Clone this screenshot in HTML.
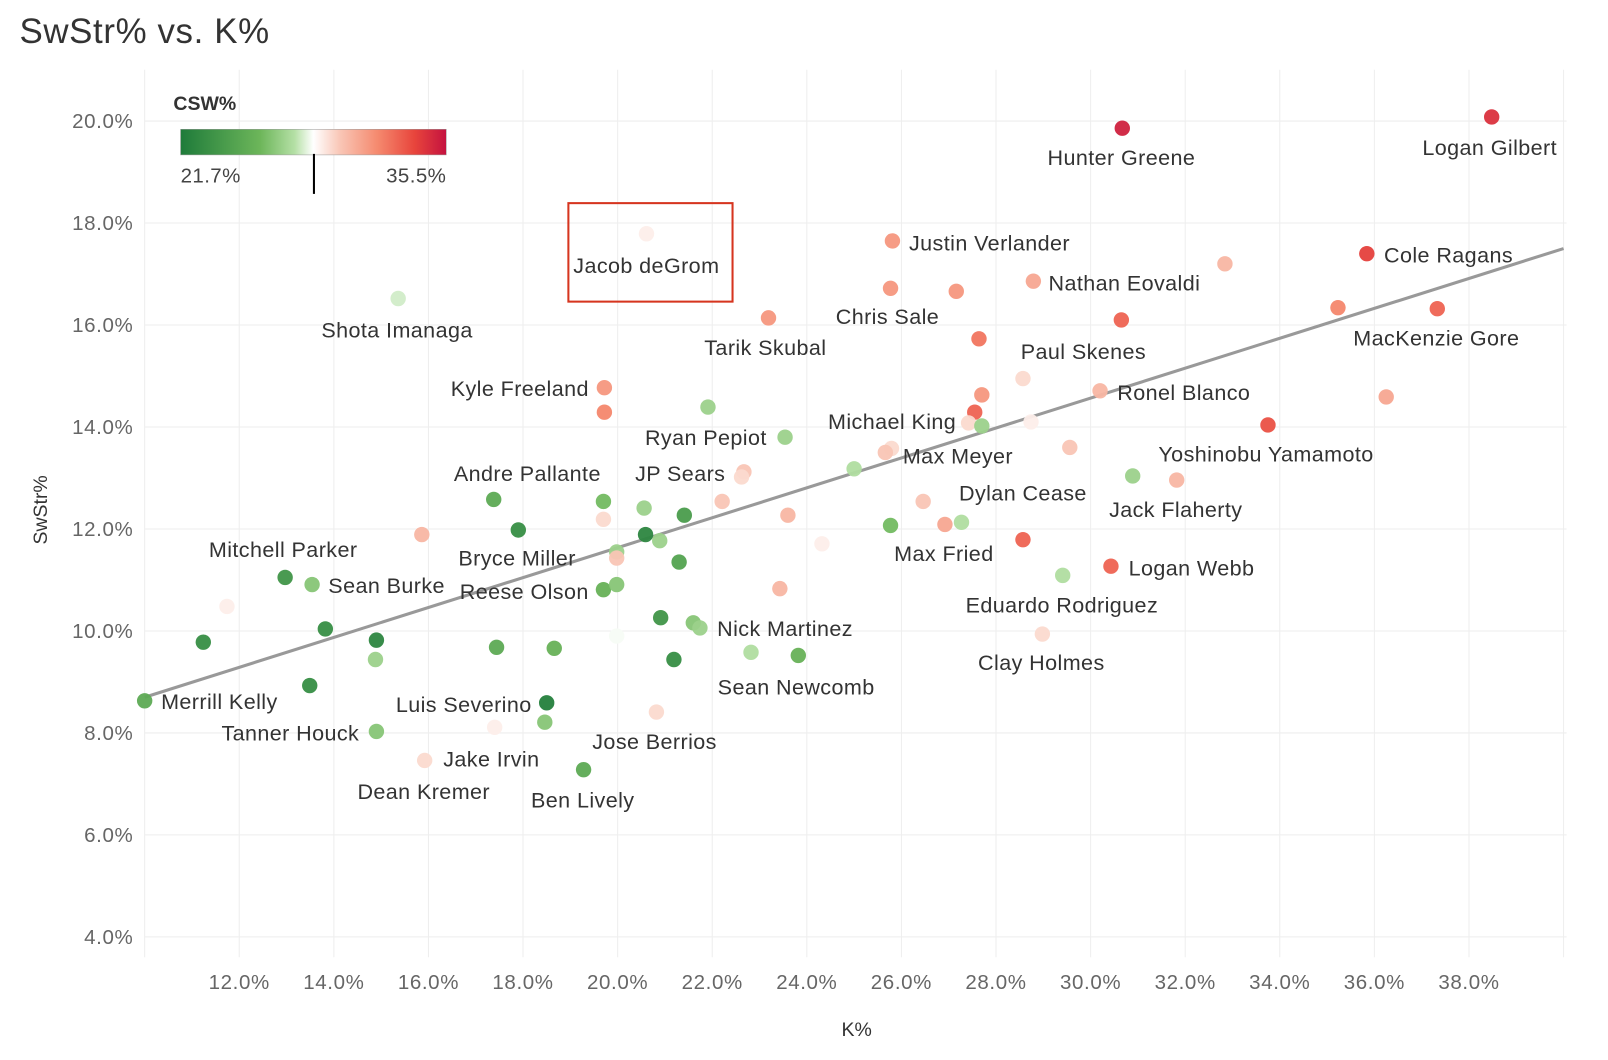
<!DOCTYPE html>
<html><head><meta charset="utf-8">
<style>
html,body{margin:0;padding:0;background:#fff;}
svg{display:block;font-family:"Liberation Sans","DejaVu Sans",sans-serif;}
</style></head>
<body>
<svg id="chart" width="1608" height="1060" viewBox="0 0 1567.3 1033.2" preserveAspectRatio="none" xmlns="http://www.w3.org/2000/svg">
<defs>
<linearGradient id="csw" x1="0" x2="1" y1="0" y2="0">
<stop offset="0" stop-color="#1e7b3a"/><stop offset="0.3" stop-color="#6db65a"/><stop offset="0.43" stop-color="#b5e0a6"/><stop offset="0.5" stop-color="#ffffff"/><stop offset="0.6" stop-color="#f9c6b6"/><stop offset="0.74" stop-color="#f58a6f"/><stop offset="0.88" stop-color="#e8453c"/><stop offset="1" stop-color="#c4123f"/>
</linearGradient>
</defs>
<text x="19" y="42" font-size="34" letter-spacing="0.6" fill="#333">SwStr% vs. K%</text>
<g id="grid"></g>
<g id="axes"></g>
<line id="trend" stroke="#999" stroke-width="3"/>
<g id="points"></g>
<g id="labels" font-size="21" letter-spacing="0.4" fill="#333"></g>
<rect x="554" y="198" width="160" height="96" fill="none" stroke="#d6351f" stroke-width="2"/>
<g>
<text x="169" y="107" font-size="19" font-weight="bold" fill="#333">CSW%</text>
<rect x="176" y="126" width="259" height="25" fill="url(#csw)" stroke="#999" stroke-width="0.5"/>
<text x="176" y="178" font-size="20" letter-spacing="0.4" fill="#444">21.7%</text>
<text x="435" y="178" font-size="20" letter-spacing="0.4" fill="#444" text-anchor="end">35.5%</text>
<line x1="306" x2="306" y1="150" y2="189" stroke="#000" stroke-width="2"/>
</g>
<text transform="translate(46,497) rotate(-90)" font-size="19" fill="#333" text-anchor="middle">SwStr%</text>
<text x="835" y="1010" font-size="19" fill="#333" text-anchor="middle">K%</text>
</svg>
<script>
const kVals=[30.67,38.48,20.61,25.81,28.79,32.84,35.84,25.77,27.16,23.19,30.65,35.23,37.33,15.36,27.64,28.57,19.72,19.72,27.7,30.2,36.25,27.55,27.42,27.7,28.74,33.75,21.91,23.54,25.79,25.66,29.56,25.0,22.67,22.62,30.89,31.82,17.38,19.7,20.56,21.41,22.21,23.6,17.9,19.7,20.59,20.89,24.32,25.77,26.46,26.92,27.27,28.57,15.86,19.98,19.98,21.3,12.97,13.54,11.74,19.7,19.98,23.43,29.41,30.43,11.24,13.82,14.9,14.88,13.49,10.0,17.44,18.66,20.91,19.98,21.19,21.6,21.74,22.82,23.82,28.98,18.5,18.46,17.4,20.82,14.9,15.92,19.28];
const swVals=[19.86,20.08,17.79,17.65,16.86,17.2,17.4,16.72,16.66,16.14,16.1,16.34,16.32,16.52,15.73,14.95,14.77,14.29,14.63,14.71,14.59,14.29,14.08,14.02,14.1,14.04,14.39,13.8,13.58,13.5,13.6,13.18,13.12,13.02,13.04,12.96,12.58,12.54,12.41,12.27,12.54,12.27,11.98,12.19,11.89,11.77,11.71,12.07,12.54,12.09,12.13,11.79,11.89,11.55,11.43,11.35,11.05,10.91,10.48,10.81,10.91,10.83,11.09,11.27,9.78,10.04,9.82,9.44,8.93,8.63,9.68,9.66,10.26,9.9,9.44,10.16,10.06,9.58,9.52,9.94,8.59,8.21,8.11,8.41,8.03,7.46,7.28];
const cswVals=[35,34.5,29,31.5,31,30.5,34,31.5,31.5,31.5,33,32,33,28,32.5,29.5,31.5,32,31.5,30.5,31,33,29.5,27,29,33.5,27,27,29.5,30,30,27.5,30,29.5,27,30.5,25,26,27,24,30,30.5,23,29.5,22.5,27,29,26,30,31,27.5,33,30.5,27,30,24.5,23.5,26.5,29,25.5,26.5,30.5,27.5,33,23,23,22.5,27,23,25,25,25.5,23.5,28.5,23,26.5,27,27.5,25.5,29.5,22,26.5,29,29.5,26.5,29.5,25];
const xTicks=[12,14,16,18,20,22,24,26,28,30,32,34,36,38];
const yTicks=[4,6,8,10,12,14,16,18,20];
const trendStart=[10,8.7];
const trendEnd=[40,17.5];
const labelNames=["Hunter Greene","Logan Gilbert","Jacob deGrom","Justin Verlander","Nathan Eovaldi","Cole Ragans","Chris Sale","Tarik Skubal","MacKenzie Gore","Shota Imanaga","Paul Skenes","Kyle Freeland","Ronel Blanco","Michael King","Ryan Pepiot","Max Meyer","Yoshinobu Yamamoto","Andre Pallante","JP Sears","Dylan Cease","Jack Flaherty","Mitchell Parker","Bryce Miller","Max Fried","Logan Webb","Sean Burke","Reese Olson","Eduardo Rodriguez","Nick Martinez","Clay Holmes","Sean Newcomb","Merrill Kelly","Luis Severino","Tanner Houck","Jose Berrios","Jake Irvin","Dean Kremer","Ben Lively"];
const labelPos=[[1093,154,"m"],[1452,144,"m"],[630,259,"m"],[886,237,"s"],[1022,276,"s"],[1349,249,"s"],[865,309,"m"],[746,339,"m"],[1400,330,"m"],[387,322,"m"],[1056,343,"m"],[574,379,"e"],[1089,383,"s"],[932,411,"e"],[688,427,"m"],[880,445,"s"],[1234,443,"m"],[514,462,"m"],[663,462,"m"],[997,481,"m"],[1146,497,"m"],[276,536,"m"],[504,544,"m"],[920,540,"m"],[1100,554,"s"],[320,571,"s"],[511,577,"m"],[1035,590,"m"],[699,613,"s"],[1015,646,"m"],[776,670,"m"],[157,684,"s"],[452,687,"m"],[283,715,"m"],[638,723,"m"],[432,740,"s"],[413,772,"m"],[568,780,"m"]];
const NS="http://www.w3.org/2000/svg";
const X0=141,XW=46.1,Y0=118,YH=49.7;
function sx(k){return X0+(k-10)*XW;}
function sy(s){return Y0+(20-s)*YH;}
const stops=[[0,[30,123,58]],[0.3,[109,182,90]],[0.43,[181,224,166]],[0.5,[255,255,255]],[0.6,[249,198,182]],[0.74,[245,138,111]],[0.88,[232,69,60]],[1,[196,18,63]]];
function color(c){let t=(c-21.7)/(35.5-21.7);t=Math.max(0,Math.min(1,t));
for(let i=1;i<stops.length;i++){if(t<=stops[i][0]){const a=stops[i-1],b=stops[i];const f=(t-a[0])/(b[0]-a[0]);const r=a[1].map((v,j)=>Math.round(v+(b[1][j]-v)*f));return `rgb(${r})`;}}return "rgb(196,18,63)";}
function mk(tag,attrs,parent){const e=document.createElementNS(NS,tag);for(const k in attrs)e.setAttribute(k,attrs[k]);parent.appendChild(e);return e;}
const grid=document.getElementById('grid'),axes=document.getElementById('axes');
for(let v=10;v<=40;v+=2){const l=mk('line',{x1:sx(v),x2:sx(v),y1:68,y2:933,stroke:'#eeeeee','stroke-width':1},grid);

}
yTicks.forEach(v=>{const l=mk('line',{x1:141,x2:1527,y1:sy(v),y2:sy(v),stroke:'#eeeeee','stroke-width':1},grid);


const t=mk('text',{x:130,y:sy(v)+7,'text-anchor':'end','font-size':20,'letter-spacing':0.6,fill:'#666'},axes);t.textContent=v.toFixed(1)+'%';

});
xTicks.forEach(v=>{const t=mk('text',{x:sx(v),y:964,'text-anchor':'middle','font-size':20,'letter-spacing':0.6,fill:'#666'},axes);t.textContent=v.toFixed(1)+'%';

});
const tr=document.getElementById('trend');
tr.setAttribute('x1',sx(trendStart[0]));tr.setAttribute('y1',sy(trendStart[1]));tr.setAttribute('x2',sx(trendEnd[0]));tr.setAttribute('y2',sy(trendEnd[1]));
const pts=document.getElementById('points');
kVals.forEach((k,i)=>{const c=mk('circle',{cx:sx(k),cy:sy(swVals[i]),r:7.5,fill:color(cswVals[i]),'fill-opacity':0.95},pts);

});
const lg=document.getElementById('labels');
labelNames.forEach((n,i)=>{const p=labelPos[i];const t=mk('text',{x:p[0],y:p[1]+7,'text-anchor':p[2]=='m'?'middle':(p[2]=='e'?'end':'start')},lg);t.textContent=n;

});
</script>
</body></html>
